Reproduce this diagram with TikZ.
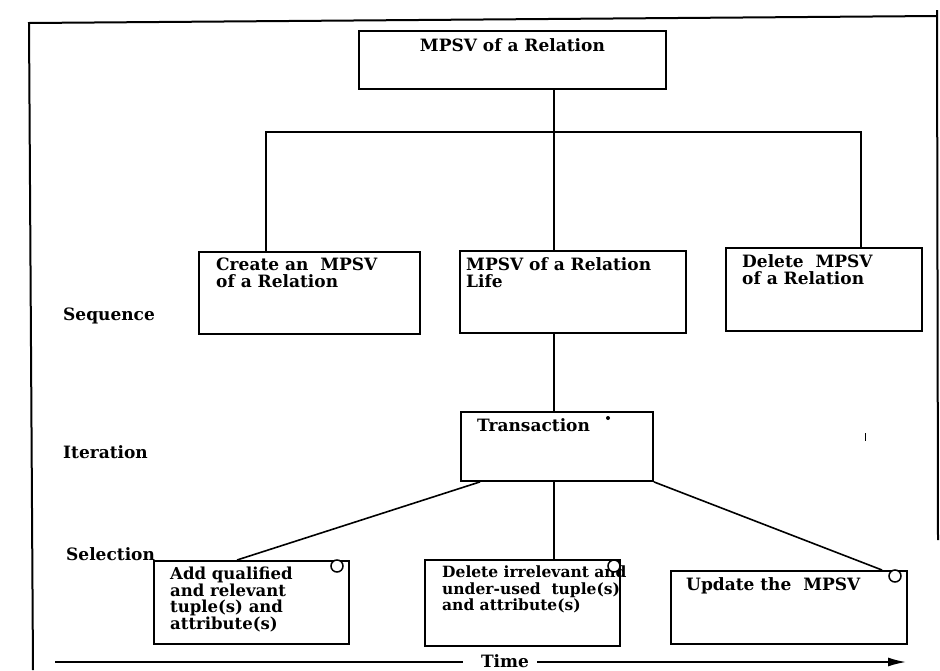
\documentclass[tikz,border=0pt]{standalone}
\usepackage{fontspec}
\setmainfont{DejaVu Serif}
\usetikzlibrary{arrows.meta}
\begin{document}
\begin{tikzpicture}[x=1pt,y=-1pt,
  box/.style={draw, line width=1.9pt, rectangle, anchor=north west, inner sep=0pt},
  lbl/.style={anchor=north west, align=left, inner sep=0pt, font=\fontsize{17}{17}\selectfont\bfseries},
  conn/.style={line width=1.6pt},
  side/.style={anchor=west, inner sep=0pt, font=\fontsize{17}{17}\selectfont\bfseries},
  circ/.style={draw, fill=white, circle, line width=1.5pt, minimum size=12pt, inner sep=0pt}]
\useasboundingbox (0,0) rectangle (940,670);
% frame
\coordinate (f1) at (29,23);
\coordinate (f2) at (937,16);
\coordinate (f3) at (33,670);
\coordinate (f4) at (937,10);
\coordinate (f5) at (938,540);
\draw[line width=2pt] (f3) -- (f1) -- (f2);
\draw[line width=2pt] (f4) -- (f5);
% top box
\node[box, minimum width=307pt, minimum height=58pt] (T) at (358,30) {};
\node[anchor=north, inner sep=0pt, font=\fontsize{17}{17}\selectfont\bfseries] (Tt) at ([yshift=-8pt]T.north) {MPSV of a Relation};
% middle row
\node[box, minimum width=221pt, minimum height=82pt,
  label={[lbl, xshift=18pt, yshift=-7pt]north west:{Create an\ \ MPSV\\of a Relation}}] (C) at (198,251) {};
\node[box, minimum width=226pt, minimum height=82pt,
  label={[lbl, xshift=7pt, yshift=-7pt]north west:{MPSV of a Relation\\Life}}] (L) at (459,250) {};
\node[box, minimum width=196pt, minimum height=83pt,
  label={[lbl, xshift=17pt, yshift=-7pt]north west:{Delete\ \ MPSV\\of a Relation}}] (D) at (725,247) {};
% transaction
\node[box, minimum width=192pt, minimum height=69pt,
  label={[lbl, xshift=17pt, yshift=-7pt]north west:{Transaction}}] (X) at (460,411) {};
% bottom row
\node[box, minimum width=195pt, minimum height=83pt,
  label={[lbl, xshift=17pt, yshift=-7pt, font=\fontsize{16.5}{15.5}\selectfont\bfseries]north west:{Add qualified\\and relevant\\tuple(s) and\\attribute(s)}}] (A) at (153,560) {};
\node[box, minimum width=195pt, minimum height=86pt,
  label={[lbl, xshift=18pt, yshift=-7pt, font=\fontsize{15.5}{16.5}\selectfont\bfseries]north west:{Delete irrelevant and\\under-used\ \ tuple(s)\\and attribute(s)}}] (B) at (424,559) {};
\node[box, minimum width=236pt, minimum height=73pt,
  label={[lbl, xshift=16pt, yshift=-7pt]north west:{Update the\ \ MPSV}}] (U) at (670,570) {};
% small circles on bottom boxes
\node[circ] (ca) at (337,566) {};
\node[circ] (cb) at (614,566) {};
\node[circ] (cu) at (895,576) {};
% side labels
\node[side] (seq) at (63,316) {Sequence};
\node[side] (ite) at (63,452) {Iteration};
\node[side] (sel) at (66,554) {Selection};
% connectors
\coordinate (j) at (554,132);
\coordinate (hl) at (266,132);
\coordinate (hr) at (861,132);
\draw[conn] (j |- T.south) -- (j);
\draw[conn] (hl |- C.north) -- (hl) -- (hr) -- (hr |- D.north);
\draw[conn] (j) -- (j |- L.north);
\draw[conn] (j |- L.south) -- (j |- X.north);
\draw[conn] (j |- X.south) -- (j |- B.north);
\coordinate (ad) at (237,560);
\coordinate (ud) at (882,570);
\draw[conn] ([xshift=20pt]X.south west) -- (ad |- A.north);
\draw[conn] (X.south east) -- (ud |- U.north);
% specks
\fill (608,418) circle (2pt);
\draw[line width=1pt] (865,433) -- (865,441);
% time axis
\node[inner sep=0pt, font=\fontsize{17}{17}\selectfont\bfseries] (time) at (505,661) {Time};
\coordinate (ts) at (55,662);
\coordinate (te) at (906,662);
\draw[conn] (ts) -- ([xshift=-18pt]ts -| time.west);
\draw[conn, -{Latex[length=18pt,width=9pt]}] ([xshift=8pt]ts -| time.east) -- (te);
\end{tikzpicture}
\end{document}
